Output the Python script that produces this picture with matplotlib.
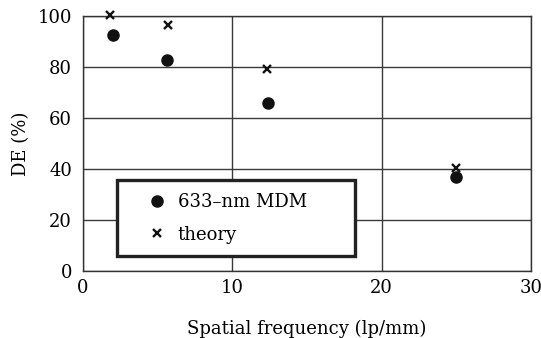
import matplotlib
matplotlib.use("Agg")
import matplotlib.pyplot as plt
from matplotlib.patches import Rectangle

# Datos
frecuencia_mdm = [2.0, 5.6, 12.4, 25.0]
de_mdm = [92.7, 82.9, 65.8, 36.7]
frecuencia_teoria = [1.8, 5.7, 12.35, 25.0]
de_teoria = [100.3, 96.5, 79.3, 40.5]

xticks = [0, 10, 20, 30]
yticks = [0, 20, 40, 60, 80, 100]

plt.rcParams['font.family'] = ['DejaVu Serif']
plt.rcParams['font.size'] = 13

fig = plt.figure(figsize=(5.41, 3.38), dpi=100)
ax = fig.add_axes([83 / 541, 1 - 271 / 338, 448 / 541, 255 / 338])

ax.set_xlim(0, 30)
ax.set_ylim(0, 100)
ax.set_xticks(xticks)
ax.set_yticks(yticks)
ax.tick_params(axis='x', length=0, pad=6)
ax.tick_params(axis='y', length=0, pad=8)
ax.grid(True, color='#3a3a3a', linewidth=1.0)
ax.set_axisbelow(True)
for s in ax.spines.values():
    s.set_linewidth(1.0)
    s.set_color('#333333')

ax.plot(frecuencia_mdm, de_mdm, 'o', color='#111111', markersize=8,
        label='633\u2013nm MDM', clip_on=False, zorder=3)
ax.plot(frecuencia_teoria, de_teoria, 'x', color='#111111', markersize=5.5,
        markeredgewidth=1.7, label='theory', clip_on=False, zorder=3)

ax.set_xlabel('Spatial frequency (lp/mm)', labelpad=16)
ax.set_ylabel('DE (%)', labelpad=5)

# Caja de la leyenda (borde grueso)
caja = Rectangle((0.075, 0.06), 0.533, 0.297, transform=ax.transAxes,
                 facecolor='white', edgecolor='#222222', linewidth=2.4, zorder=4)
ax.add_patch(caja)

leg = ax.legend(loc='upper left', bbox_to_anchor=(0.145, 0.305), frameon=False,
                borderpad=0, borderaxespad=0, handlelength=1.0,
                handletextpad=0.65, labelspacing=0.8)
leg.set_zorder(5)

fig.savefig('out.png', dpi=100)
